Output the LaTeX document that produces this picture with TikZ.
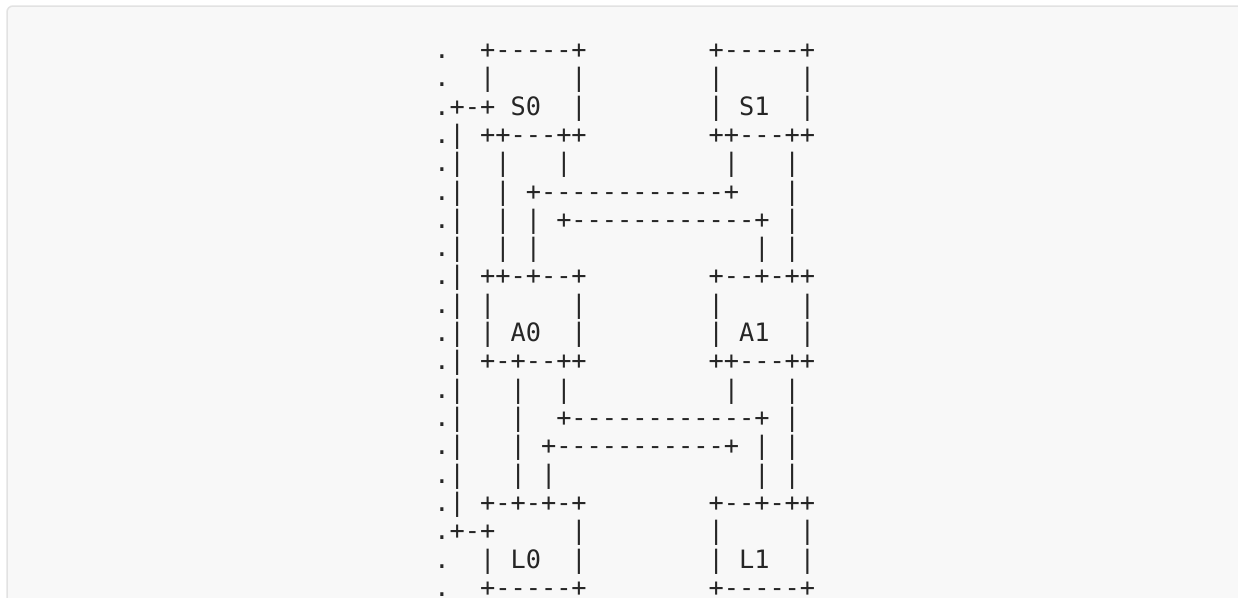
\documentclass[tikz,border=0pt]{standalone}
\usepackage{fontspec}
\setmonofont{DejaVu Sans Mono}
\definecolor{codeink}{RGB}{38,38,38}
\definecolor{codebg}{RGB}{248,248,248}
\definecolor{codeframe}{RGB}{226,226,226}
\begin{document}
\begin{tikzpicture}[x=1pt,y=-1pt,
  asciirow/.style={inner sep=0pt,outer sep=0pt,anchor=base west,text=codeink,font=\ttfamily\fontsize{25.3}{28}\selectfont}]
\path[use as bounding box] (0,0) rectangle (1238,597);
\fill[white] (0,0) rectangle (1238,597);
\begin{scope}
\clip (0,0) rectangle (1238,597);
\path[fill=codebg,draw=codeframe,line width=1.5pt,rounded corners=6pt] (7,6) rectangle (1260,620);
\end{scope}
% rows of the block, baseline step 28.33
\node[asciirow] (row1) at (434.4,58.3) {.~~+-----+~~~~~~~~+-----+};
\node[asciirow] (row2) at (434.4,86.6) {.~~|~~~~~|~~~~~~~~|~~~~~|};
\node[asciirow] (row3) at (434.4,115.0) {.+-+~S0~~|~~~~~~~~|~S1~~|};
\node[asciirow] (row4) at (434.4,143.3) {.|~++---++~~~~~~~~++---++};
\node[asciirow] (row5) at (434.4,171.6) {.|~~|~~~|~~~~~~~~~~|~~~|};
\node[asciirow] (row6) at (434.4,200.0) {.|~~|~+------------+~~~|};
\node[asciirow] (row7) at (434.4,228.3) {.|~~|~|~+------------+~|};
\node[asciirow] (row8) at (434.4,256.6) {.|~~|~|~~~~~~~~~~~~~~|~|};
\node[asciirow] (row9) at (434.4,284.9) {.|~++-+--+~~~~~~~~+--+-++};
\node[asciirow] (row10) at (434.4,313.3) {.|~|~~~~~|~~~~~~~~|~~~~~|};
\node[asciirow] (row11) at (434.4,341.6) {.|~|~A0~~|~~~~~~~~|~A1~~|};
\node[asciirow] (row12) at (434.4,369.9) {.|~+-+--++~~~~~~~~++---++};
\node[asciirow] (row13) at (434.4,398.3) {.|~~~|~~|~~~~~~~~~~|~~~|};
\node[asciirow] (row14) at (434.4,426.6) {.|~~~|~~+------------+~|};
\node[asciirow] (row15) at (434.4,454.9) {.|~~~|~+-----------+~|~|};
\node[asciirow] (row16) at (434.4,483.3) {.|~~~|~|~~~~~~~~~~~~~|~|};
\node[asciirow] (row17) at (434.4,511.6) {.|~+-+-+-+~~~~~~~~+--+-++};
\node[asciirow] (row18) at (434.4,539.9) {.+-+~~~~~|~~~~~~~~|~~~~~|};
\node[asciirow] (row19) at (434.4,568.3) {.~~|~L0~~|~~~~~~~~|~L1~~|};
\node[asciirow] (row20) at (434.4,596.6) {.~~+-----+~~~~~~~~+-----+};
\end{tikzpicture}
\end{document}
